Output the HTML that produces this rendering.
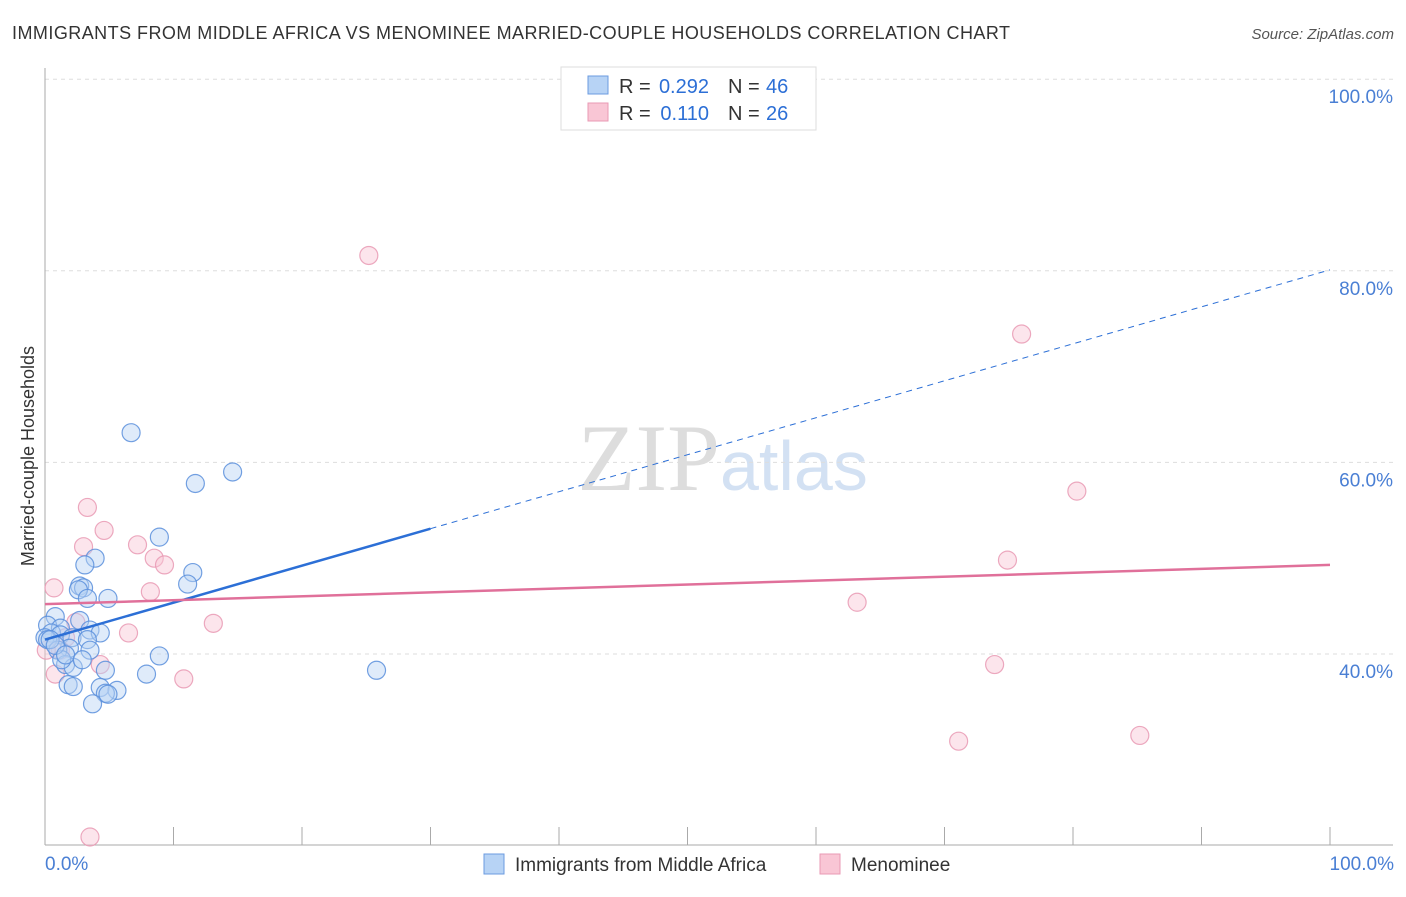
<!DOCTYPE html>
<html><head><meta charset="utf-8"><style>
body{margin:0;background:#fff;font-family:"Liberation Sans",sans-serif}
</style></head><body>
<svg width="1406" height="892" xmlns="http://www.w3.org/2000/svg" font-family="Liberation Sans, sans-serif">
<text x="12" y="39" font-size="18" fill="#333" textLength="998">IMMIGRANTS FROM MIDDLE AFRICA VS MENOMINEE MARRIED-COUPLE HOUSEHOLDS CORRELATION CHART</text>
<text x="1394" y="39" font-size="15" fill="#555" font-style="italic" text-anchor="end">Source: ZipAtlas.com</text>
<text x="34" y="456" font-size="18" fill="#333" text-anchor="middle" transform="rotate(-90 34 456)">Married-couple Households</text>
<text x="720" y="490" font-size="95" fill="#ddd" text-anchor="end" font-family="Liberation Serif, serif">ZIP</text>
<text x="720" y="490" font-size="70" fill="#d3e1f3">atlas</text>
<g id="grid"></g><g id="axes"></g><g id="marks"></g>
<g>
<rect x="561" y="67" width="255" height="63" fill="#fff" stroke="#ddd"/>
<rect x="588" y="76" width="20" height="18" fill="#b7d3f5" stroke="#6b9be0"/>
<rect x="588" y="103" width="20" height="18" fill="#f9c6d5" stroke="#e99ab4"/>
<text x="619" y="93" font-size="20" fill="#333">R =</text>
<text x="709" y="93" font-size="20" fill="#2c6fd6" text-anchor="end">0.292</text>
<text x="728" y="93" font-size="20" fill="#333">N =</text>
<text x="766" y="93" font-size="20" fill="#2c6fd6">46</text>
<text x="619" y="120" font-size="20" fill="#333">R =</text>
<text x="709" y="120" font-size="20" fill="#2c6fd6" text-anchor="end">0.110</text>
<text x="728" y="120" font-size="20" fill="#333">N =</text>
<text x="766" y="120" font-size="20" fill="#2c6fd6">26</text>
</g>
<g>
<rect x="484" y="854" width="20" height="20" fill="#b7d3f5" stroke="#6b9be0"/>
<text x="515" y="871" font-size="19" fill="#333">Immigrants from Middle Africa</text>
<rect x="820" y="854" width="20" height="20" fill="#f9c6d5" stroke="#e99ab4"/>
<text x="851" y="871" font-size="19" fill="#333">Menominee</text>
</g>
<text x="45" y="870" font-size="19" fill="#4a7fd4">0.0%</text>
<text x="1394" y="870" font-size="19" fill="#4a7fd4" text-anchor="end">100.0%</text>
</svg>
<script>
const blueX=[6.7,14.6,11.7,8.9,3.9,3.1,11.5,11.1,2.7,3.0,2.6,3.3,4.9,0.8,2.7,0.2,1.2,3.5,4.3,0.5,1.2,0,2.1,3.3,0.2,1.9,1.0,3.5,8.9,1.6,2.2,4.7,7.9,25.8,1.8,2.2,4.3,5.6,4.7,4.9,3.7,0.4,1.3,0.8,1.6,2.9];
const blueY=[63.1,59.0,57.8,52.2,50.0,49.3,48.5,47.3,47.1,46.9,46.7,45.8,45.8,43.9,43.5,43.0,42.7,42.5,42.2,42.2,42.0,41.7,41.7,41.5,41.5,40.6,40.4,40.4,39.8,38.9,38.6,38.3,37.9,38.3,36.8,36.6,36.5,36.2,35.9,35.8,34.8,41.5,39.4,40.9,39.9,39.4];
const pinkX=[25.2,76.0,80.3,3.3,4.6,3.0,7.2,8.5,9.3,0.7,8.2,63.2,2.4,13.1,6.5,74.9,1.6,1.2,4.3,73.9,0.8,10.8,71.1,85.2,3.5,0.1];
const pinkY=[81.6,73.4,57.0,55.3,52.9,51.2,51.4,50.0,49.3,46.9,46.5,45.4,43.3,43.2,42.2,49.8,41.7,40.4,38.9,38.9,37.9,37.4,30.9,31.5,20.9,40.4];
const yTicks=[40,60,80,100];
const yTickLabels=["40.0%","60.0%","80.0%","100.0%"];
const blueTrend=[41.5,80.1]; const blueSolidEnd=30;
const pinkTrend=[45.2,49.3];
const NS="http://www.w3.org/2000/svg";
const sx=v=>45+v*12.85, sy=v=>654-(v-40)*9.58;
function mk(tag,attrs,parent){const e=document.createElementNS(NS,tag);for(const k in attrs)e.setAttribute(k,attrs[k]);document.getElementById(parent).appendChild(e);return e;}
yTicks.forEach((t,i)=>{
 const g=mk('line',{x1:45,x2:1393,y1:sy(t),y2:sy(t),stroke:'#ddd','stroke-dasharray':'4,4'},'grid');
 
 
 const l=mk('text',{x:1393,y:sy(t)+24,'font-size':19,fill:'#4a7fd4','text-anchor':'end'},'grid');
 l.textContent=yTickLabels[i];
 
 
});
let a=mk('line',{x1:45,x2:45,y1:68,y2:845,stroke:'#aaa'},'axes');


a=mk('line',{x1:45,x2:1393,y1:845,y2:845,stroke:'#aaa'},'axes');


for(let i=0;i<=10;i++){const t=mk('line',{x1:sx(i*10),x2:sx(i*10),y1:827,y2:845,stroke:'#aaa'},'axes');
 
 }
function pts(X,Y,fill,stroke,name){X.forEach((x,i)=>{const c=mk('circle',{cx:sx(x),cy:sy(Y[i]),r:9,fill:fill,'fill-opacity':0.45,stroke:stroke,'stroke-width':1.2,'stroke-opacity':0.85},'marks');
 
 });}
pts(pinkX,pinkY,'#f9c6d5','#e99ab4','menominee-point');
pts(blueX,blueY,'#b7d3f5','#5b8fdc','middle-africa-point');
const bAt=x=>blueTrend[0]+(blueTrend[1]-blueTrend[0])*x/100;
let ln=mk('line',{x1:sx(0),y1:sy(bAt(0)),x2:sx(blueSolidEnd),y2:sy(bAt(blueSolidEnd)),stroke:'#2c6fd6','stroke-width':2.5},'marks');


ln=mk('line',{x1:sx(blueSolidEnd),y1:sy(bAt(blueSolidEnd)),x2:sx(100),y2:sy(bAt(100)),stroke:'#2c6fd6','stroke-width':1,'stroke-dasharray':'6,5'},'marks');


ln=mk('line',{x1:sx(0),y1:sy(pinkTrend[0]),x2:sx(100),y2:sy(pinkTrend[1]),stroke:'#e0709a','stroke-width':2.5},'marks');


</script>
</body></html>
